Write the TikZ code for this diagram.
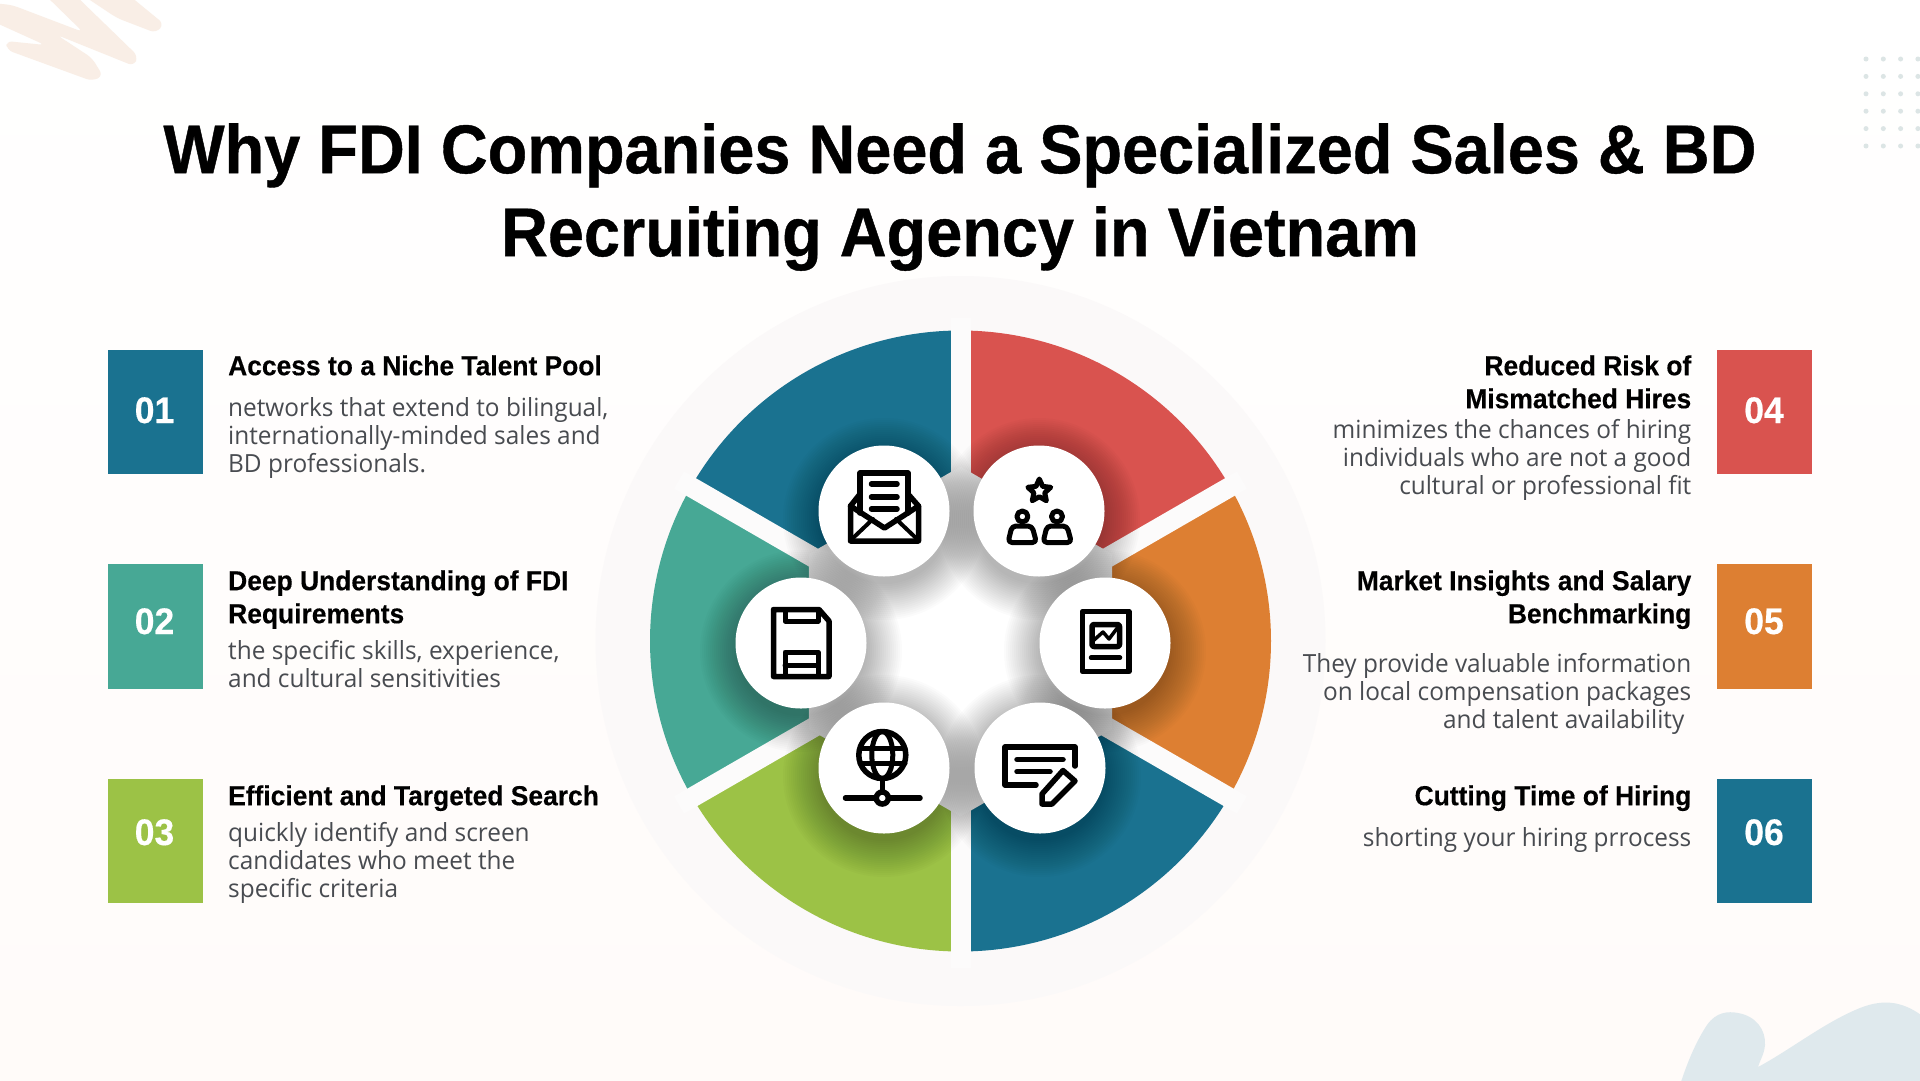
\documentclass[tikz,border=0pt]{standalone}
\usepackage{fontspec}
\usetikzlibrary{shapes.geometric,calc}
\setmainfont{Liberation Sans}
\newfontfamily\tfam[BoldFeatures={FakeStretch=0.94,FakeBold=0.6}]{Liberation Sans}
\newfontfamily\hdfam[BoldFeatures={FakeStretch=0.96,FakeBold=0.35}]{Liberation Sans}
\newfontfamily\bdfam[FakeStretch=0.975]{Open Sans}
\definecolor{cBlue}{HTML}{1A7290}
\definecolor{cTeal}{HTML}{47A895}
\definecolor{cGreen}{HTML}{9CC246}
\definecolor{cRed}{HTML}{D9534F}
\definecolor{cOrange}{HTML}{DD7F32}
\definecolor{cPale}{HTML}{FBF9F9}
\definecolor{cGap}{HTML}{FCFBFB}
\definecolor{cHole}{HTML}{FFFFFF}
\definecolor{cBody}{HTML}{484B50}
\definecolor{cPeach}{HTML}{F9EEE6}
\definecolor{cBlob}{HTML}{DFE9ED}
\definecolor{cDot}{HTML}{DCE5E5}
\definecolor{cBgEnd}{HTML}{FFFBF9}
\tikzset{
  titletext/.style={font=\tfam\bfseries\fontsize{69}{83}\selectfont,align=center,inner sep=0,anchor=north,text=black},
  headL/.style={font=\hdfam\bfseries\fontsize{27.5}{33}\selectfont,align=left,inner sep=0,anchor=north west,text=black},
  headR/.style={font=\hdfam\bfseries\fontsize{27.5}{33}\selectfont,align=right,inner sep=0,anchor=north east,text=black},
  bodyL/.style={font=\bdfam\fontsize{25}{28}\selectfont,align=left,inner sep=0,anchor=north west,text=cBody},
  bodyR/.style={font=\bdfam\fontsize{25}{28}\selectfont,align=right,inner sep=0,anchor=north east,text=cBody},
  numbox/.style={minimum width=95,minimum height=124.5,inner sep=0,anchor=north west},
  numtext/.style={font=\hdfam\bfseries\fontsize{37}{40}\selectfont,text=white,inner sep=0,anchor=base},
  iconline/.style={draw=black,line width=5.5,line join=round,line cap=round},
  bubble/.style={circle,fill=white,minimum size=131,inner sep=0},
}
\newcommand{\stA}{\rule{0pt}{60pt}}
\newcommand{\stB}{\rule{0pt}{30pt}}
\newcommand{\stC}{\rule{0pt}{20pt}}
\newcommand{\sector}[3]{\fill[#1] (960.5,641.5) -- ($(960.5,641)+(#2:310.5)$) arc[start angle=#2,end angle=#3,radius=310.5] -- cycle;}
\newcommand{\softshadow}[2]{\foreach \r in {46,44,...,10}{\fill[black,opacity=0.014] (#1,#2+8) circle[radius=55+\r];}}
\begin{document}
\begin{tikzpicture}[x=1pt,y=-1pt]
\useasboundingbox (0,0) rectangle (1920,1080);
\clip (0,0) rectangle (1920,1080);
% background
\shade[top color=white,bottom color=cBgEnd] (0,0) rectangle (1920,1080);
% scribble top-left
\fill[cPeach,rounded corners=6] (-8,3) -- (12,5) -- (83,32) -- (42,-8) -- (72,-8) -- (138,56) -- (134,66) -- (57,35) -- (92,58) -- (103,76) -- (92,81) -- (7,50) -- (6,41) -- (45,45) -- (-8,21) -- cycle;
\fill[cPeach,rounded corners=6] (78,-8) -- (125,-8) -- (164,24) -- (156,33) -- (117,18) -- cycle;
% dots
\foreach \yy in {59,76.4,93.8,111.2,128.6,146}{\foreach \xx in {1866,1883.3,1900.6,1917.9}{\fill[cDot] (\xx,\yy) circle[radius=2.5];}}
% blob
\fill[cBlob] (1680,1085) .. controls (1688,1060) and (1697,1040) .. (1707,1025) .. controls (1716,1012) and (1728,1011) .. (1738,1013) .. controls (1756,1016) and (1766,1030) .. (1765,1045) .. controls (1764,1055) and (1760,1060) .. (1758,1067) .. controls (1790,1050) and (1825,1022) .. (1860,1008) .. controls (1885,998) and (1905,1002) .. (1925,1018) -- (1925,1085) -- cycle;
% ring
\fill[cPale] (960.5,641) circle[radius=365];
\sector{cBlue}{210}{270}
\sector{cRed}{270}{330}
\sector{cOrange}{-30}{30}
\sector{cBlue}{30}{90}
\sector{cGreen}{90}{150}
\sector{cTeal}{150}{210}
\foreach \a in {30,90,...,330}{\draw[cGap,line width=20] (960.5,642.5) -- ($(960.5,642.5)+(\a:325)$);}
\fill[cHole] ($(960.5,641.5)+(30:175)$) -- ($(960.5,641.5)+(90:175)$) -- ($(960.5,641.5)+(150:175)$) -- ($(960.5,641.5)+(210:175)$) -- ($(960.5,641.5)+(270:175)$) -- ($(960.5,641.5)+(330:175)$) -- cycle;
% shadows
\softshadow{884}{511}\softshadow{1039}{511}\softshadow{801}{643}\softshadow{1105}{643}\softshadow{884}{768}\softshadow{1040}{768}
\node[bubble] (b1) at (884,511) {};
\node[bubble] (b2) at (1039,511) {};
\node[bubble] (b3) at (801,643) {};
\node[bubble] (b4) at (1105,643) {};
\node[bubble] (b5) at (884,768) {};
\node[bubble] (b6) at (1040,768) {};
% envelope icon
\draw[iconline,fill=white] (860,513) -- (860,473) -- (908,473) -- (908,513);
\draw[iconline] (871.5,484) -- (897,484) (871.5,497) -- (897,497) (871.5,509) -- (897,509);
\draw[iconline] (860,494) -- (850.5,506) -- (850.5,541) -- (918.5,541) -- (918.5,506) -- (908,494);
\draw[iconline] (850.5,506) -- (884.5,528) -- (918.5,506);
\draw[iconline,line width=4] (853,538) -- (873,519) (916,538) -- (896,519);
% people-star icon
\node[star,star points=5,star point ratio=2.1,draw=black,line width=5,line join=round,fill=white,minimum size=24,inner sep=0] (st) at (1039.3,491) {};
\draw[iconline,line width=5] (1022.4,516.5) circle[radius=5.5];
\draw[iconline,line width=5] (1057,516.5) circle[radius=5.5];
\draw[iconline,line width=5,rounded corners=4] (1008,542.5) -- (1012,526) -- (1032,526) -- (1036.5,542.5) -- cycle;
\draw[iconline,line width=5,rounded corners=4] (1043,542.5) -- (1047,526) -- (1067,526) -- (1071.5,542.5) -- cycle;
% floppy icon
\draw[iconline] (773.5,609.5) -- (819,609.5) -- (829,621) -- (829,676.5) -- (773.5,676.5) -- cycle;
\draw[iconline,line width=5] (785,610) -- (785,621) -- (818,621) -- (818,610);
\draw[iconline,line width=5] (785,676) -- (785,652) -- (818,652) -- (818,676) (785,665) -- (818,665);
% report icon
\draw[iconline] (1082.5,611.5) rectangle (1129,671.5);
\draw[iconline,rounded corners=2] (1092,624.5) rectangle (1119.5,646.5);
\draw[iconline,line width=3.5] (1094,640) -- (1103,632) -- (1109,639) -- (1118,627);
\draw[iconline,line width=4.5] (1091,657.7) -- (1120,657.7);
% globe icon
\draw[iconline] (882.3,755) circle[radius=23.5];
\draw[iconline,line width=5] (882.3,755) ellipse[x radius=10.5,y radius=23.5];
\draw[iconline,line width=5] (860,748) -- (905,748) (860,763) -- (905,763);
\draw[iconline] (882.3,780) -- (882.3,792);
\draw[iconline] (845.5,798) -- (920,798);
\node[circle,draw=black,fill=white,line width=5.5,minimum size=12,inner sep=0] (gn) at (882.3,798) {};
% note icon
\draw[iconline] (1036,785) -- (1005,785) -- (1005,747) -- (1075,747) -- (1075,766);
\draw[iconline] (1017,759.5) -- (1063,759.5) (1017,771.7) -- (1050,771.7);
\draw[iconline] (1063,770.5) -- (1075,781) -- (1052,804) -- (1042,804) -- (1042,794) -- cycle;
% title
\node[titletext] (title) at (960,173-60) {\stA Why FDI Companies Need a Specialized Sales \& BD\\Recruiting Agency in Vietnam};
% number boxes
\node[numbox,fill=cBlue] (n1) at (108,349.3) {};
\node[numbox,fill=cTeal] (n2) at (108,564) {};
\node[numbox,fill=cGreen] (n3) at (108,778.7) {};
\node[numbox,fill=cRed] (n4) at (1717,349.3) {};
\node[numbox,fill=cOrange] (n5) at (1717,564) {};
\node[numbox,fill=cBlue] (n6) at (1717,778.7) {};
\node[numtext] (t1) at (154.5,423) {01};
\node[numtext] (t2) at (154.5,634) {02};
\node[numtext] (t3) at (154.5,845) {03};
\node[numtext] (t4) at (1764,423) {04};
\node[numtext] (t5) at (1764,634) {05};
\node[numtext] (t6) at (1764,845) {06};
% left text
\node[headL] (h1) at (228,375-30) {\stB Access to a Niche Talent Pool};
\node[bodyL] (d1) at (228,416-20) {\stC networks that extend to bilingual,\\internationally-minded sales and\\BD professionals.};
\node[headL] (h2) at (228,590-30) {\stB Deep Understanding of FDI\\Requirements};
\node[bodyL] (d2) at (228,659-20) {\stC the specific skills, experience,\\and cultural sensitivities};
\node[headL] (h3) at (228,805-30) {\stB Efficient and Targeted Search};
\node[bodyL] (d3) at (228,841-20) {\stC quickly identify and screen\\candidates who meet the\\specific criteria};
% right text
\node[headR] (h4) at (1691.5,375-30) {\stB Reduced Risk of\\Mismatched Hires};
\node[bodyR] (d4) at (1691.5,438-20) {\stC minimizes the chances of hiring\\individuals who are not a good\\cultural or professional fit};
\node[headR] (h5) at (1691.5,590-30) {\stB Market Insights and Salary\\Benchmarking};
\node[bodyR] (d5) at (1691.5,672-20) {\stC They provide valuable information\\on local compensation packages\\and talent availability\hspace*{7pt}};
\node[headR] (h6) at (1691.5,805-30) {\stB Cutting Time of Hiring};
\node[bodyR] (d6) at (1691.5,846-20) {\stC shorting your hiring prrocess};
\end{tikzpicture}
\end{document}
